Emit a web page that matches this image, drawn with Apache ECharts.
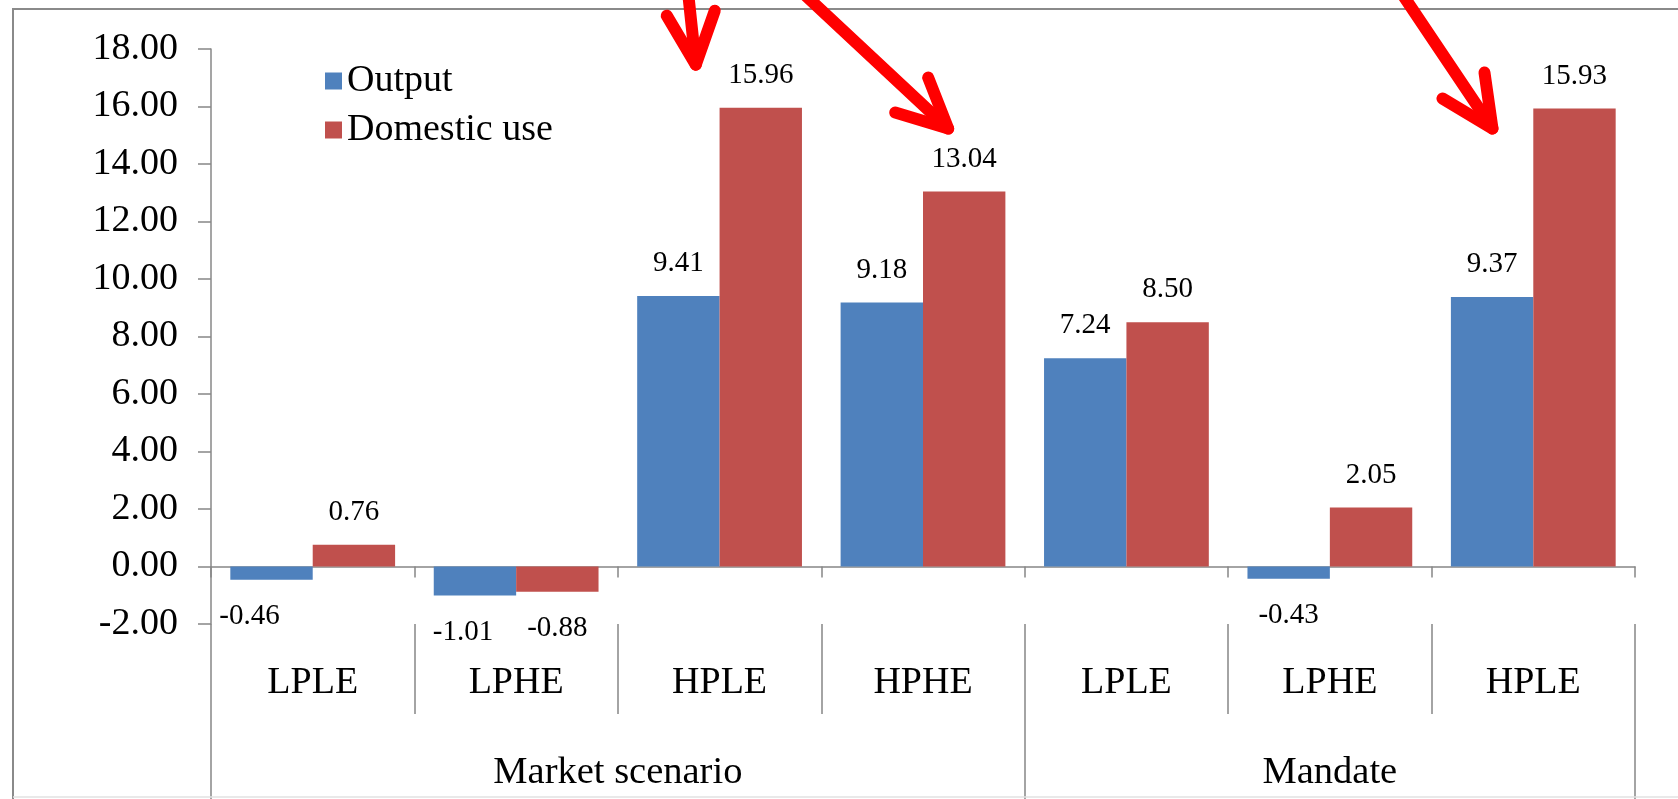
<!DOCTYPE html>
<html>
<head>
<meta charset="utf-8">
<script src="https://cdn.jsdelivr.net/npm/echarts@6/dist/echarts.min.js"></script>
<style>
  html, body { margin: 0; padding: 0; background: #ffffff; }
  #chart { width: 1678px; height: 799px; }
</style>
</head>
<body>
<div id="chart"></div>
<script>
// Scenario categories along the x axis, with their outer grouping
const scenarios = ['LPLE', 'LPHE', 'HPLE', 'HPHE', 'LPLE', 'LPHE', 'HPLE'];
const groupNames = ['Market scenario', 'Mandate'];
const groupSizes = [4, 3];

// Percentage change by scenario
const output = [-0.46, -1.01, 9.41, 9.18, 7.24, -0.43, 9.37];
const domesticUse = [0.76, -0.88, 15.96, 13.04, 8.50, 2.05, 15.93];

// Value axis range
const yMin = -2;
const yMax = 18;
const yStep = 2;

const FONT = 'Liberation Serif';
const AXIS_GREY = '#878787';

// Group boundaries and centres in category units
const groupEdges = [0];
groupSizes.forEach(n => groupEdges.push(groupEdges[groupEdges.length - 1] + n));
const groupCentres = groupSizes.map((n, i) => groupEdges[i] + n / 2);

const chart = echarts.init(document.getElementById('chart'), null, { renderer: 'canvas' });

// Label nudges for a couple of crowded negative labels (pixels, x only)
const outputLabelNudge = { 0: -22, 1: -12 };

function barItems(values, nudge) {
  return values.map((v, i) => ({
    value: v,
    label: {
      position: v < 0 ? 'bottom' : 'top',
      distance: v < 0 ? 22 : 18,
      offset: [(nudge && nudge[i]) || 0, 0]
    }
  }));
}

const barLabel = {
  show: true,
  fontFamily: FONT,
  fontSize: 29,
  color: '#000',
  formatter: p => p.value.toFixed(2)
};

chart.setOption({
  animation: false,
  backgroundColor: '#ffffff',
  grid: { left: 211, right: 43, top: 49, bottom: 175, containLabel: false },
  legend: {
    data: ['Output', 'Domestic use'],
    orient: 'vertical',
    left: 325,
    top: 62,
    padding: 0,
    icon: 'rect',
    itemWidth: 17,
    itemHeight: 17,
    itemGap: 11,
    textStyle: { fontFamily: FONT, fontSize: 38, color: '#000' }
  },
  xAxis: [
    {
      // axis crossing at zero, ticks only
      type: 'category',
      data: scenarios,
      position: 'bottom',
      axisLine: { onZero: true, lineStyle: { color: AXIS_GREY, width: 1.5 } },
      axisTick: { show: true, interval: 0, length: 11, lineStyle: { color: AXIS_GREY, width: 1.5 } },
      axisLabel: { show: false },
      splitLine: { show: false }
    },
    {
      // scenario labels along the bottom of the plot
      type: 'category',
      data: scenarios,
      position: 'bottom',
      axisLine: { show: false, onZero: false },
      axisTick: { show: true, interval: 0, length: 90, lineStyle: { color: AXIS_GREY, width: 1.5 } },
      axisLabel: {
        show: true, interval: 0, margin: 40,
        fontFamily: FONT, fontSize: 38, lineHeight: 38, color: '#000'
      },
      splitLine: { show: false }
    },
    {
      // outer grouping level
      type: 'value',
      min: 0,
      max: scenarios.length,
      position: 'bottom',
      axisLine: { show: false, onZero: false },
      axisTick: {
        show: true, length: 176, customValues: groupEdges,
        lineStyle: { color: AXIS_GREY, width: 1.5 }
      },
      axisLabel: {
        show: true, margin: 130, customValues: groupCentres,
        fontFamily: FONT, fontSize: 38.5, lineHeight: 38, color: '#000',
        formatter: v => groupNames[groupCentres.indexOf(v)] || ''
      },
      splitLine: { show: false }
    }
  ],
  yAxis: {
    type: 'value',
    min: yMin,
    max: yMax,
    interval: yStep,
    axisLine: { show: true, lineStyle: { color: AXIS_GREY, width: 1.5 } },
    axisTick: { show: true, length: 13, lineStyle: { color: AXIS_GREY, width: 1.5 } },
    axisLabel: {
      margin: 33, fontFamily: FONT, fontSize: 38, color: '#000',
      formatter: v => v.toFixed(2)
    },
    splitLine: { show: false }
  },
  series: [
    {
      name: 'Output',
      type: 'bar',
      xAxisIndex: 0,
      data: barItems(output, outputLabelNudge),
      barGap: '0%',
      barCategoryGap: '19%',
      itemStyle: { color: '#4F81BD' },
      label: barLabel
    },
    {
      name: 'Domestic use',
      type: 'bar',
      xAxisIndex: 0,
      data: barItems(domesticUse),
      barGap: '0%',
      barCategoryGap: '19%',
      itemStyle: { color: '#C0504D' },
      label: barLabel
    }
  ]
});

// Red call-out arrows pointing at the three largest domestic-use bars.
// Each arrow is placed relative to the top of its bar; geometry is given
// as offsets from the arrow tip.
const callouts = [
  { index: 2, tip: [-65, -43], tail: [-8, -75], barbs: [[-29, -49], [19, -54]] },
  { index: 3, tip: [-16, -63], tail: [-150, -140], barbs: [[-20, -51], [-53, -16]] },
  { index: 6, tip: [-82, 20], tail: [-94, -140], barbs: [[-8, -56], [-50, -30]] }
];

function drawDecorations() {
  const w = chart.getWidth();
  const h = chart.getHeight();
  const arrowStyle = { stroke: '#ff0000', lineWidth: 12, lineCap: 'round', lineJoin: 'round', fill: null };
  const elements = [
    {
      type: 'polyline', z: 100, silent: true,
      shape: { points: [[13, h + 10], [13, 9], [w + 10, 9]] },
      style: { stroke: '#8a8a8a', lineWidth: 2, fill: null }
    },
    {
      type: 'line', z: 100, silent: true,
      shape: { x1: 13, y1: 797, x2: w + 10, y2: 797 },
      style: { stroke: '#e2e2e2', lineWidth: 1.5 }
    }
  ];
  const catW = chart.convertToPixel({ xAxisIndex: 0 }, 1) - chart.convertToPixel({ xAxisIndex: 0 }, 0);
  callouts.forEach(c => {
    const top = chart.convertToPixel({ seriesIndex: 1 }, [c.index, domesticUse[c.index]]);
    // shift from the category centre to the domestic-use bar centre
    const barCx = top[0] + catW * (1 - 0.19) / 4;
    const tx = barCx + c.tip[0];
    const ty = top[1] + c.tip[1];
    elements.push({
      type: 'polyline', z: 200, silent: true,
      shape: { points: [[tx + c.tail[0], ty + c.tail[1]], [tx, ty]] },
      style: arrowStyle
    });
    elements.push({
      type: 'polyline', z: 200, silent: true,
      shape: { points: [[tx + c.barbs[0][0], ty + c.barbs[0][1]], [tx, ty], [tx + c.barbs[1][0], ty + c.barbs[1][1]]] },
      style: arrowStyle
    });
  });
  chart.setOption({ graphic: elements });
}

drawDecorations();
</script>
</body>
</html>
